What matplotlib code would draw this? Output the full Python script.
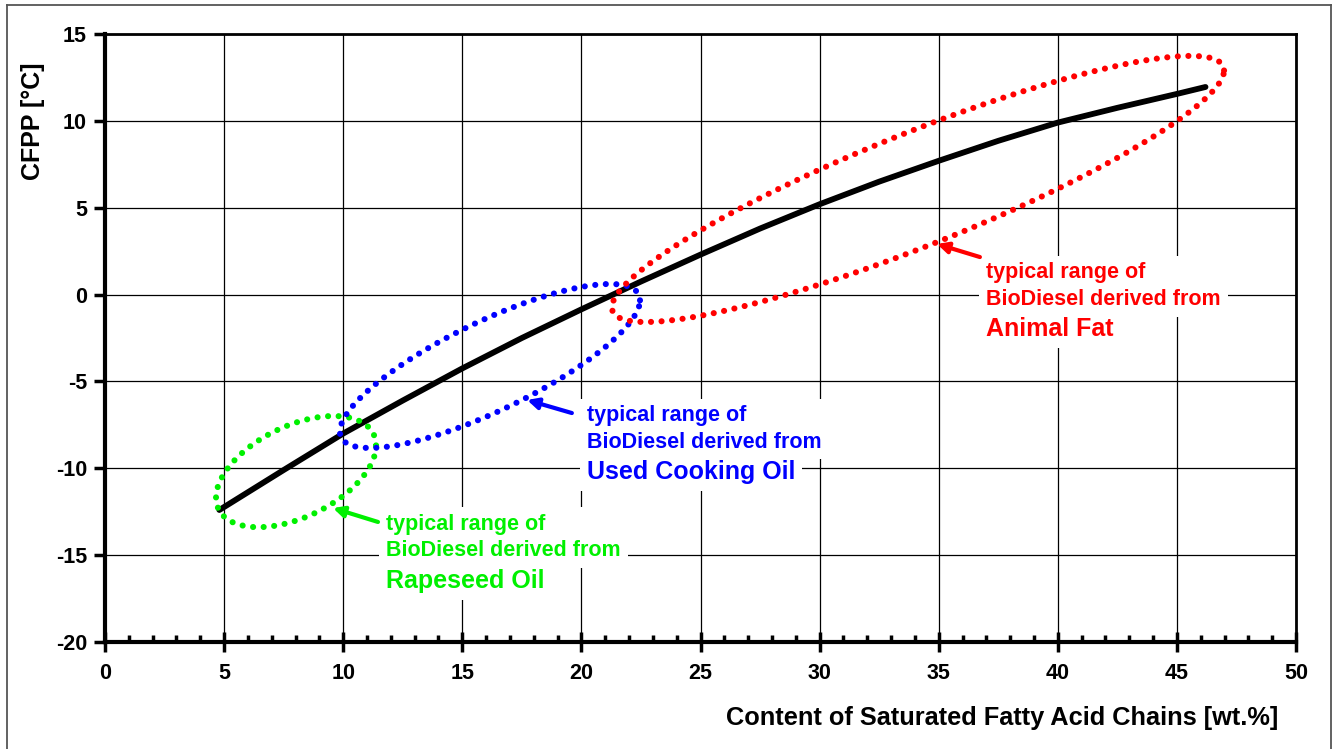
import numpy as np
import matplotlib
matplotlib.use("Agg")
import matplotlib.pyplot as plt
from matplotlib.ticker import MultipleLocator
from matplotlib.lines import Line2D

plt.rcParams['font.family'] = ['Liberation Sans', 'DejaVu Sans']
plt.rcParams['font.weight'] = 'bold'
plt.rcParams['axes.unicode_minus'] = False

# ---- data ----
sat_content = [4.8, 7.5, 10, 12.5, 15, 17.5, 20, 22.5, 25, 27.5, 30, 32.5, 35, 37.5, 40, 42.5, 45, 46.2]
cfpp = [-12.4, -10.1, -8.0, -6.1, -4.25, -2.5, -0.85, 0.75, 2.3, 3.8, 5.2, 6.5, 7.7, 8.85, 9.9, 10.75, 11.55, 11.95]

range_names = ["Rapeseed Oil", "Used Cooking Oil", "Animal Fat"]
range_colors = ["#00f000", "#0000ff", "#ff0000"]
# ellipse: centre x, centre y, half-extent x, half-extent y, tilt (cos phi)
ell_cx = [8.02, 16.16, 34.13]
ell_cy = [-10.19, -4.11, 6.08]
ell_rx = [3.36, 6.30, 12.85]
ell_ry = [3.20, 4.72, 7.66]
ell_tilt = [0.47, 0.80, 0.89]

label_x = [11.8, 20.24, 36.99]
label_y = [-13.96, -7.74, 0.49]
arrow_tail = [(11.46, -13.09), (19.6, -6.82), (36.73, 2.16)]
arrow_head = [(9.57, -12.29), (17.72, -6.07), (34.93, 2.91)]

x_ticks = list(range(0, 51, 5))
y_ticks = list(range(-20, 16, 5))

# ---- figure ----
fig = plt.figure(figsize=(13.36, 7.49), dpi=100)
ax = fig.add_axes([105/1336, 1-642/749, (1296-105)/1336, (642-34)/749])

# figure border
for xs, ys in [([7/1336, 7/1336], [0, 1-5/749]),
               ([7/1336, 1331/1336], [1-5/749, 1-5/749]),
               ([1331/1336, 1331/1336], [0, 1-5/749])]:
    fig.add_artist(Line2D(xs, ys, transform=fig.transFigure, color='#555555', lw=1.3))

ax.set_xlim(0, 50)
ax.set_ylim(-20, 15)
ax.set_xticks(x_ticks)
ax.set_yticks(y_ticks)
ax.xaxis.set_minor_locator(MultipleLocator(1))
ax.grid(True, which='major', color='black', lw=0.9, zorder=0)
ax.set_axisbelow(True)

ax.tick_params(axis='x', which='major', direction='inout', length=14, width=2.5,
               labelsize=15.5, pad=8)
ax.tick_params(axis='x', which='minor', direction='in', length=5, width=2.5)
ax.tick_params(axis='y', which='major', direction='out', length=8, width=2.5,
               labelsize=15.5, pad=5)
for lab in ax.get_xticklabels() + ax.get_yticklabels():
    lab.set_fontweight('bold')

ax.spines['left'].set_linewidth(3)
ax.spines['bottom'].set_linewidth(3)
ax.spines['top'].set_linewidth(2)
ax.spines['right'].set_linewidth(2)

ax.set_xlabel("Content of Saturated Fatty Acid Chains [wt.%]", fontsize=18.3,
              fontweight='bold')
ax.xaxis.set_label_coords(1.0 - (1296 - 1278) / (1296 - 105), -0.125)
ax.xaxis.label.set_ha('right')
ax.xaxis.label.set_va('center')
ax.set_ylabel("CFPP [°C]", fontsize=18, fontweight='bold')
ax.yaxis.set_label_coords(-(105 - 33) / (1296 - 105), (642 - 121) / (642 - 34))
ax.yaxis.label.set_va('center')

# main curve
ax.plot(sat_content, cfpp, color='black', lw=4.2, solid_capstyle='round', zorder=5)

# ellipses
t = np.linspace(0, 2*np.pi, 600)
for cx, cy, rx, ry, c, col in zip(ell_cx, ell_cy, ell_rx, ell_ry, ell_tilt, range_colors):
    phi = np.arccos(c)
    ex = cx + rx*np.cos(t)
    ey = cy + ry*np.cos(t - phi)
    ax.plot(ex, ey, color=col, lw=4.4, linestyle=(0, (0.01, 1.72)),
            dash_capstyle='round', zorder=6)

# labels + arrows
for name, col, lx, ly, tail, head in zip(range_names, range_colors, label_x, label_y,
                                         arrow_tail, arrow_head):
    ax.text(lx, ly, "typical range of\nBioDiesel derived from", color=col,
            fontsize=15.5, fontweight='bold', va='center', ha='left', linespacing=1.32,
            zorder=7, bbox=dict(facecolor='white', edgecolor='none', pad=5))
    ax.text(lx, ly - 2.5, name, color=col, fontsize=18, fontweight='bold',
            va='center', ha='left', zorder=7,
            bbox=dict(facecolor='white', edgecolor='none', pad=5))
    ax.annotate("", xy=head, xytext=tail,
                arrowprops=dict(arrowstyle='-|>', color=col, lw=3,
                                mutation_scale=16, shrinkA=0, shrinkB=0),
                zorder=8)

fig.savefig("out.png", dpi=100)
